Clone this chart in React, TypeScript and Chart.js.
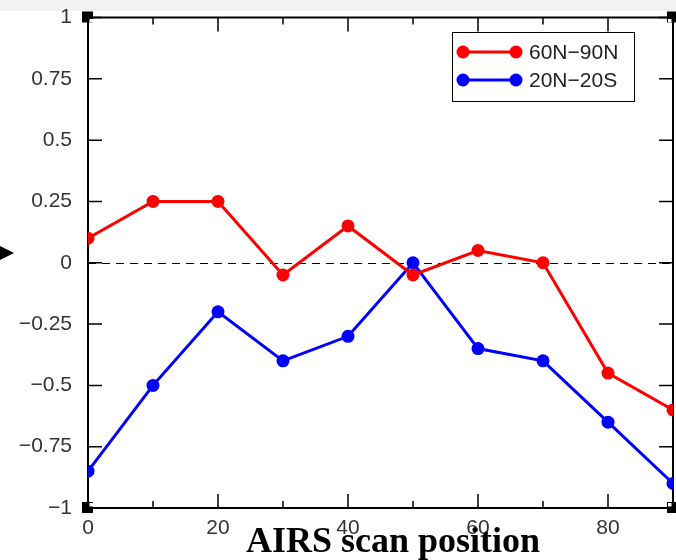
import React, { useEffect, useRef } from "react";
import { Chart, registerables } from "chart.js";

Chart.register(...registerables);

const scanPositions = [0, 10, 20, 30, 40, 50, 60, 70, 80, 90];
const arcticValues = [0.1, 0.25, 0.25, -0.05, 0.15, -0.05, 0.05, 0, -0.45, -0.6];
const tropicsValues = [-0.85, -0.5, -0.2, -0.4, -0.3, 0, -0.35, -0.4, -0.65, -0.9];
const seriesLabels = ["60N\u221290N", "20N\u221220S"];
const seriesColors = ["#ff0000", "#0000ff"];
const yTickValues = [-1, -0.75, -0.5, -0.25, 0, 0.25, 0.5, 0.75, 1];
const xMajorTicks = [0, 20, 40, 60, 80];
const xMinorTicks = [10, 30, 50, 70];
const xTitle = "AIRS scan position";

const TICK_FONT = "Liberation Sans";

const fmtY = (v: number) => {
  if (Math.abs(v) < 1e-9) return "0";
  const s = String(Math.abs(v));
  return v < 0 ? "\u2212" + s : s;
};

const decorPlugin = {
  id: "decor",
  beforeDraw(chart: any) {
    const ctx = chart.ctx;
    ctx.save();
    ctx.fillStyle = "#f2f2f2";
    ctx.fillRect(0, 0, chart.width, 11);
    ctx.restore();
  },
  beforeDatasetsDraw(chart: any) {
    const ctx = chart.ctx;
    const { left, right, top, bottom } = chart.chartArea;
    const xs = chart.scales.x;
    const ys = chart.scales.y;
    ctx.save();
    // zero dashed line
    ctx.strokeStyle = "#000";
    ctx.lineWidth = 1;
    ctx.setLineDash([8, 6]);
    const y0 = Math.round(ys.getPixelForValue(0)) + 0.5;
    ctx.beginPath();
    ctx.moveTo(left, y0);
    ctx.lineTo(right, y0);
    ctx.stroke();
    ctx.setLineDash([]);
    // frame
    ctx.lineWidth = 2;
    ctx.strokeRect(left, top, right - left, bottom - top);
    // ticks
    ctx.lineWidth = 1.5;
    ctx.beginPath();
    for (const v of yTickValues) {
      const py = ys.getPixelForValue(v);
      ctx.moveTo(left, py);
      ctx.lineTo(left + 14, py);
      ctx.moveTo(right, py);
      ctx.lineTo(right - 14, py);
    }
    for (const v of xMajorTicks) {
      const px = xs.getPixelForValue(v);
      ctx.moveTo(px, bottom);
      ctx.lineTo(px, bottom - 14);
      ctx.moveTo(px, top);
      ctx.lineTo(px, top + 14);
    }
    for (const v of xMinorTicks) {
      const px = xs.getPixelForValue(v);
      ctx.moveTo(px, bottom);
      ctx.lineTo(px, bottom - 7);
      ctx.moveTo(px, top);
      ctx.lineTo(px, top + 7);
    }
    ctx.stroke();
    // corner squares
    const corners = [
      [left, top, 1, 1],
      [left, bottom, 1, -1],
      [right, top, -1, 1],
      [right, bottom, -1, -1],
    ];
    for (const [cx, cy, dx, dy] of corners) {
      ctx.fillStyle = "#000";
      ctx.fillRect(cx - 6, cy - 6, 11, 11);
      ctx.fillStyle = "#fff";
      const wx = dx > 0 ? cx + 1.5 : cx - 5;
      const wy = dy > 0 ? cy + 1.5 : cy - 5;
      ctx.fillRect(wx, wy, 3.5, 3.5);
    }
    // arrow marker on left
    ctx.fillStyle = "#000";
    ctx.beginPath();
    ctx.moveTo(0, 246);
    ctx.lineTo(14, 253);
    ctx.lineTo(0, 260);
    ctx.closePath();
    ctx.fill();
    ctx.restore();
  },
  afterDraw(chart: any) {
    const ctx = chart.ctx;
    ctx.save();
    // legend box
    ctx.fillStyle = "#fff";
    ctx.fillRect(452.5, 32.5, 182, 69);
    ctx.strokeStyle = "#000";
    ctx.lineWidth = 1;
    ctx.strokeRect(452.5, 32.5, 182, 69);
    const rows = [52, 80];
    seriesLabels.forEach((lab, i) => {
      const ry = rows[i];
      ctx.strokeStyle = seriesColors[i];
      ctx.fillStyle = seriesColors[i];
      ctx.lineWidth = 3;
      ctx.beginPath();
      ctx.moveTo(463, ry);
      ctx.lineTo(516, ry);
      ctx.stroke();
      for (const mx of [463, 516]) {
        ctx.beginPath();
        ctx.arc(mx, ry, 6.5, 0, Math.PI * 2);
        ctx.fill();
      }
      ctx.fillStyle = "#222";
      ctx.font = `21px "${TICK_FONT}"`;
      ctx.textBaseline = "middle";
      ctx.textAlign = "left";
      ctx.fillText(lab, 529, ry + 1);
    });
    // x axis title
    ctx.fillStyle = "#000";
    ctx.font = 'bold 36px "Liberation Serif"';
    ctx.textAlign = "center";
    ctx.textBaseline = "alphabetic";
    ctx.fillText(xTitle, 393, 552);
    ctx.restore();
  },
};

export default function App() {
  const ref = useRef<HTMLCanvasElement | null>(null);
  useEffect(() => {
    document.body.style.margin = "0";
    const canvas = ref.current!;
    const mk = (vals: number[]) => scanPositions.map((x, i) => ({ x, y: vals[i] }));
    const chart = new Chart(canvas, {
      type: "line",
      data: {
        datasets: [
          {
            label: seriesLabels[0],
            data: mk(arcticValues),
            borderColor: seriesColors[0],
            backgroundColor: seriesColors[0],
            borderWidth: 3,
            pointRadius: 6.5,
            pointBorderWidth: 0,
            tension: 0,
          },
          {
            label: seriesLabels[1],
            data: mk(tropicsValues),
            borderColor: seriesColors[1],
            backgroundColor: seriesColors[1],
            borderWidth: 3,
            pointRadius: 6.5,
            pointBorderWidth: 0,
            tension: 0,
          },
        ],
      },
      options: {
        responsive: false,
        animation: false,
        layout: { autoPadding: false, padding: { left: 0, right: 3, top: 17.5, bottom: 0 } },
        plugins: { legend: { display: false }, tooltip: { enabled: false } },
        scales: {
          x: {
            type: "linear",
            min: 0,
            max: 90,
            grid: { display: false, drawTicks: false },
            border: { display: false },
            ticks: {
              stepSize: 10,
              autoSkip: false,
              maxRotation: 0,
              padding: 8,
              color: "#333",
              font: { family: TICK_FONT, size: 21 },
              callback: (v: any) => (xMajorTicks.includes(Number(v)) ? String(v) : ""),
            },
            afterFit: (s: any) => {
              s.height = 52;
              s.paddingLeft = 0;
              s.paddingRight = 0;
            },
          },
          y: {
            type: "linear",
            min: -1,
            max: 1,
            grid: { display: false, drawTicks: false },
            border: { display: false },
            ticks: {
              stepSize: 0.25,
              padding: 16,
              color: "#333",
              font: { family: TICK_FONT, size: 21 },
              callback: (v: any) => fmtY(Number(v)),
            },
            afterFit: (s: any) => {
              s.width = 88;
              s.paddingTop = 0;
              s.paddingBottom = 0;
            },
          },
        },
      },
      plugins: [decorPlugin],
    });
    return () => chart.destroy();
  }, []);
  return <canvas ref={ref} width={676} height={560} style={{ display: "block" }} />;
}
